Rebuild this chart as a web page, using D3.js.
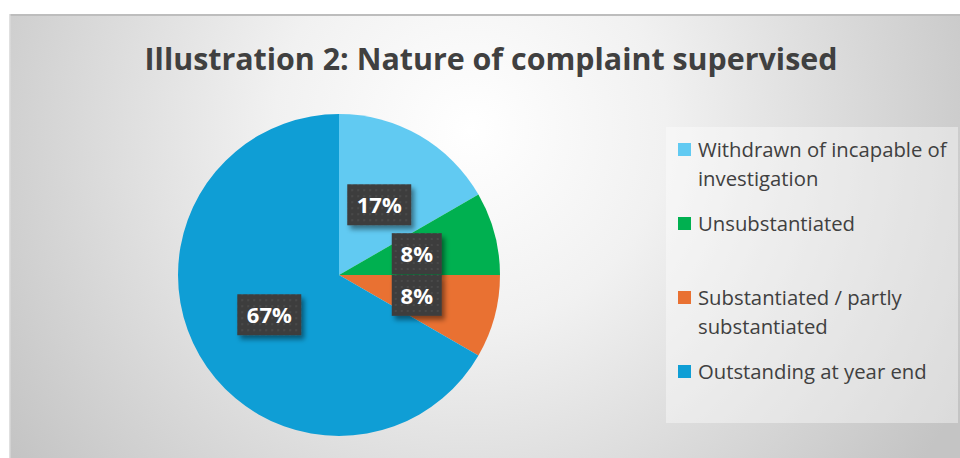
<!DOCTYPE html>
<html>
<head>
<meta charset="utf-8">
<script src="https://cdn.jsdelivr.net/npm/d3@7"></script>
<style>
  html, body { margin: 0; padding: 0; background: #fff; }
  svg { display: block; font-family: "Open Sans", "Noto Sans", sans-serif; }
</style>
</head>
<body>
<svg id="chart" width="960" height="458"></svg>
<script>
// data (counts give 17/8/8/67 %)
var categories = ["Withdrawn of incapable of investigation", "Unsubstantiated",
                  "Substantiated / partly substantiated", "Outstanding at year end"];
var counts = [2, 1, 1, 8];
var pctLabels = ["17%", "8%", "8%", "67%"];
var legendLines = [["Withdrawn of incapable of", "investigation"], ["Unsubstantiated"],
                   ["Substantiated / partly", "substantiated"], ["Outstanding at year end"]];
var colors = ["#61CAF2", "#00B050", "#E97132", "#0F9ED5"];

var svg = d3.select("#chart");
var defs = svg.append("defs");

// chart area background
var grad = defs.append("radialGradient").attr("id", "bg")
    .attr("gradientUnits", "userSpaceOnUse")
    .attr("cx", 470).attr("cy", 130).attr("r", 560);
grad.append("stop").attr("offset", "0").attr("stop-color", "#ffffff");
grad.append("stop").attr("offset", "0.35").attr("stop-color", "#f1f1f1");
grad.append("stop").attr("offset", "1").attr("stop-color", "#c4c4c4");

var shadow = defs.append("filter").attr("id", "shadow")
    .attr("x", "-20%").attr("y", "-20%").attr("width", "150%").attr("height", "160%");
shadow.append("feDropShadow").attr("dx", 3).attr("dy", 4).attr("stdDeviation", 2.5)
    .attr("flood-color", "#000").attr("flood-opacity", 0.45);

var pat = defs.append("pattern").attr("id", "dots")
    .attr("patternUnits", "userSpaceOnUse").attr("width", 6).attr("height", 6);
pat.append("rect").attr("width", 6).attr("height", 6).attr("fill", "#3c3c3c");
pat.append("rect").attr("x", 2).attr("y", 2).attr("width", 2).attr("height", 2).attr("fill", "#4a4a4a");

svg.append("rect").attr("x", 9).attr("y", 14).attr("width", 951).attr("height", 444)
    .attr("fill", "url(#bg)");
svg.append("rect").attr("x", 9).attr("y", 14).attr("width", 951).attr("height", 2)
    .attr("fill", "#bdbdbd");
svg.append("rect").attr("x", 9).attr("y", 14).attr("width", 1.5).attr("height", 444)
    .attr("fill", "#e0e0e0");

// title, fitted to the width it takes in the reference
var title = svg.append("text")
    .attr("x", 491).attr("y", 70)
    .attr("text-anchor", "middle")
    .attr("fill", "#404040")
    .style("font-weight", "bold")
    .style("font-size", "30px")
    .text("Illustration 2: Nature of complaint supervised");
var tw = title.node().getComputedTextLength();
title.style("font-size", (30 * 693 / tw).toFixed(2) + "px");

// pie
var cx = 339, cy = 275, radius = 161;
var pie = d3.pie().sort(null).value(function(d) { return d; });
var arc = d3.arc().innerRadius(0).outerRadius(radius);
var arcs = pie(counts);

var g = svg.append("g").attr("transform", "translate(" + cx + "," + cy + ")");
g.selectAll("path.slice")
    .data(arcs)
    .enter().append("path")
    .attr("class", "slice")
    .attr("d", arc)
    .attr("fill", function(d, i) { return colors[i]; });

// data labels at arc centroids (r/2)
var lbl = g.selectAll("g.lbl")
    .data(arcs)
    .enter().append("g")
    .attr("class", "lbl")
    .attr("transform", function(d) {
        var c = arc.centroid(d);
        return "translate(" + c[0] + "," + c[1] + ")";
    });
lbl.append("rect")
    .attr("x", function(d, i) { return pctLabels[i].length > 2 ? -32 : -25; })
    .attr("y", -21)
    .attr("width", function(d, i) { return pctLabels[i].length > 2 ? 64 : 50; })
    .attr("height", 41)
    .attr("fill", "url(#dots)")
    .attr("filter", "url(#shadow)");
lbl.append("text")
    .attr("text-anchor", "middle")
    .attr("dy", "0.36em")
    .attr("fill", "#fff")
    .style("font-weight", "bold")
    .style("font-size", "22px")
    .text(function(d, i) { return pctLabels[i]; });

// legend
svg.append("rect").attr("x", 666).attr("y", 127).attr("width", 292).attr("height", 296)
    .attr("fill", "#ffffff").attr("fill-opacity", 0.4);

var legendY = d3.scalePoint().domain(categories).range([150, 372]);
var lineH = 29;
var items = svg.selectAll("g.legend")
    .data(categories)
    .enter().append("g")
    .attr("class", "legend")
    .attr("transform", function(d) { return "translate(678," + legendY(d) + ")"; });
items.append("rect")
    .attr("x", 0).attr("y", -7)
    .attr("width", 13).attr("height", 13)
    .attr("fill", function(d, i) { return colors[i]; });
items.each(function(d, i) {
    var t = d3.select(this).append("text")
        .attr("x", 20).attr("y", 0)
        .attr("fill", "#404040")
        .style("font-size", "20.3px");
    legendLines[i].forEach(function(line, j) {
        t.append("tspan").attr("x", 20)
            .attr("y", j * lineH)
            .attr("dy", "0.35em")
            .text(line);
    });
});
</script>
</body>
</html>
